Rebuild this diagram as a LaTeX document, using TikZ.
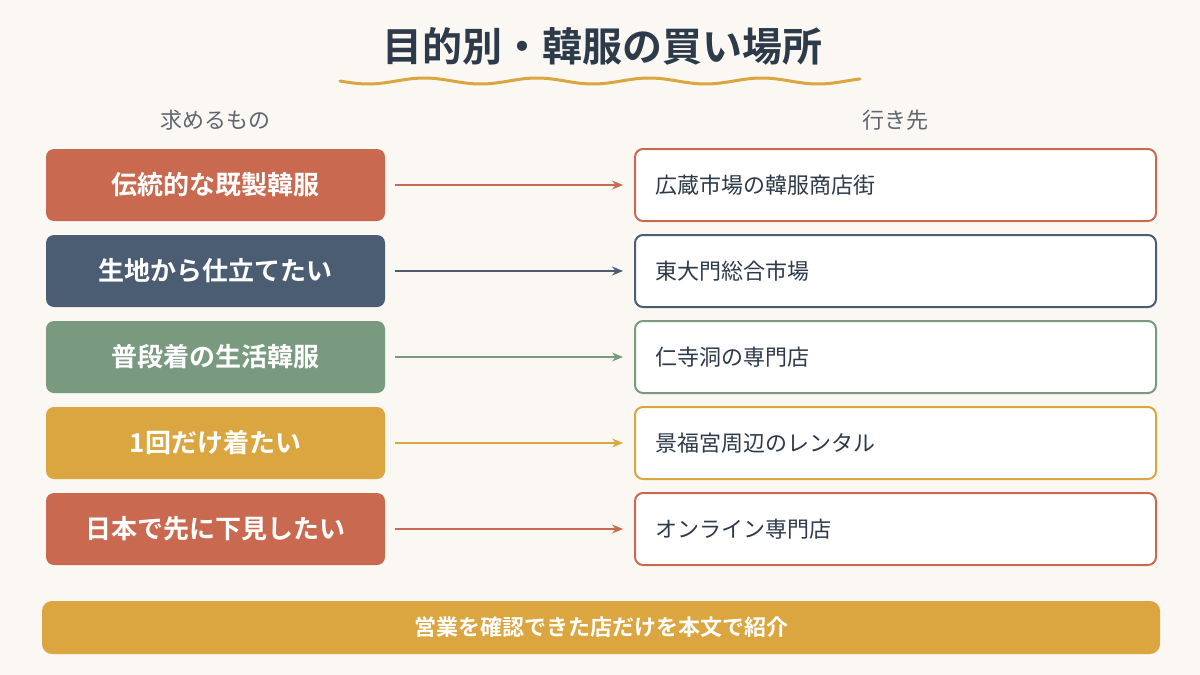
\documentclass[tikz,border=0pt]{standalone}
\usepackage{fontspec}
\setmainfont{Noto Sans CJK JP}
\newfontfamily\jpb{Noto Sans CJK JP Bold}
\usetikzlibrary{arrows.meta}
\definecolor{bg}{HTML}{FBF7F3}
\definecolor{cRed}{HTML}{C96A50}
\definecolor{cBlue}{HTML}{4A5D73}
\definecolor{cGreen}{HTML}{7A9A80}
\definecolor{cGold}{HTML}{DBA53F}
\definecolor{cDark}{HTML}{2D3A4A}
\definecolor{cGray}{HTML}{5F6672}
\begin{document}
\begin{tikzpicture}[x=1pt,y=-1pt,
 lbox/.style={rounded corners=8pt,minimum width=339pt,minimum height=72pt,text=white,font=\jpb\fontsize{26}{30}\selectfont,inner sep=0pt},
 rbox/.style={rounded corners=8pt,minimum width=521pt,minimum height=72pt,fill=white,line width=2pt,text=cDark,font=\fontsize{22}{26}\selectfont,inner sep=0pt},
 arr/.style={line width=1.5pt,-{Stealth[length=11pt,width=9pt]}}]
\useasboundingbox (0,0) rectangle (1200,675);
\fill[bg] (0,0) rectangle (1200,675);
\node[text=cDark,font=\jpb\fontsize{40}{44}\selectfont] (title) at (602,46) {目的別・韓服の買い場所};
\draw[cGold,line width=3pt,line cap=round] plot[domain=340:860,samples=120] (\x,{81+3*sin((\x-340)*3.2)});
\node[text=cGray,font=\fontsize{22}{26}\selectfont] (h1) at (215,120) {求めるもの};
\node[text=cGray,font=\fontsize{22}{26}\selectfont] (h2) at (895,120) {行き先};
\foreach \i/\y/\c/\a/\b in {1/185/cRed/伝統的な既製韓服/広蔵市場の韓服商店街,
 2/271/cBlue/生地から仕立てたい/東大門総合市場,
 3/357/cGreen/普段着の生活韓服/仁寺洞の専門店,
 4/443/cGold/1回だけ着たい/景福宮周辺のレンタル,
 5/529/cRed/日本で先に下見したい/オンライン専門店}{
 \node[lbox,fill=\c] (l\i) at (215.5,\y) {\a};
 \node[rbox,draw=\c] (r\i) at (895.5,\y) {};
 \node[anchor=west,text=cDark,font=\fontsize{22}{26}\selectfont] (t\i) at (652,\y) {\b};
 \draw[arr,\c] ([xshift=10pt]l\i.east) -- ([xshift=-11pt]r\i.west);
}
\node[rounded corners=10pt,fill=cGold,minimum width=1118pt,minimum height=53pt,text=white,font=\jpb\fontsize{22}{26}\selectfont] (foot) at (601,627.5) {営業を確認できた店だけを本文で紹介};
\end{tikzpicture}
\end{document}
